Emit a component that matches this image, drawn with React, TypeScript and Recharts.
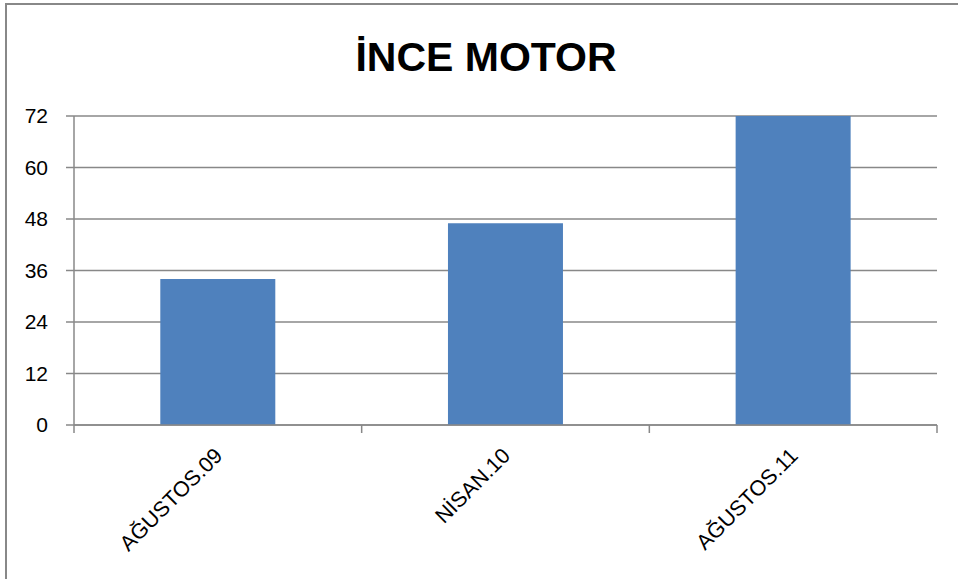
import React from 'react';
import { BarChart, Bar, XAxis, YAxis, CartesianGrid } from 'recharts';

const categories = ['AĞUSTOS.09', 'NİSAN.10', 'AĞUSTOS.11'];
const values = [34, 47, 72];
const yTicks = [0, 12, 24, 36, 48, 60, 72];
const title = 'İNCE MOTOR';

const data = categories.map((c, i) => ({ name: c, value: values[i] }));

const FONT = '"Liberation Sans", Arial, sans-serif';

const XTick = (props: any) => {
  const { x, y, payload, width, visibleTicksCount, index } = props;
  const half = (payload && payload.offset) || width / (visibleTicksCount || 3) / 2;
  const last = index === (visibleTicksCount || 3) - 1;
  const ax = x + 6;
  const ay = y + 32;
  return (
    <g>
      <line x1={x - half} y1={y} x2={x - half} y2={y + 8} stroke="#888" strokeWidth={1.5} />
      {last && <line x1={x + half} y1={y} x2={x + half} y2={y + 8} stroke="#888" strokeWidth={1.5} />}
      <text
        x={ax}
        y={ay}
        textAnchor="end"
        fontSize={21.5}
        fontFamily={FONT}
        fill="#000"
        transform={`rotate(-45, ${ax}, ${ay})`}
      >
        {payload.value}
      </text>
    </g>
  );
};

export default function App() {
  return (
    <div style={{ position: 'absolute', left: 0, top: 0, width: 958, height: 579, background: '#fff', overflow: 'hidden' }}>
      <div
        style={{
          position: 'absolute',
          left: 5,
          top: 3,
          width: 960,
          height: 600,
          borderTop: '2px solid #888',
          borderLeft: '2px solid #888',
          boxSizing: 'border-box',
        }}
      />
      <div
        style={{
          position: 'absolute',
          left: 0,
          top: 37,
          width: 972,
          textAlign: 'center',
          fontFamily: FONT,
          fontWeight: 'bold',
          fontSize: 41,
          lineHeight: '41px',
          color: '#000',
        }}
      >
        {title}
      </div>
      <div style={{ position: 'absolute', left: 0, top: 0 }}>
        <BarChart
          width={958}
          height={579}
          data={data}
          margin={{ top: 116, right: 21, bottom: 0, left: 0 }}
          barCategoryGap="30%"
        >
          <CartesianGrid horizontal vertical={false} stroke="#888" strokeWidth={1.5} />
          <XAxis
            dataKey="name"
            height={154}
            tickSize={0}
            tickMargin={0}
            axisLine={{ stroke: '#888', strokeWidth: 1.5 }}
            tickLine={false}
            tick={<XTick />}
            interval={0}
          />
          <YAxis
            width={74}
            domain={[0, 72]}
            ticks={yTicks}
            interval={0}
            tickSize={8}
            tickMargin={18}
            axisLine={{ stroke: '#888', strokeWidth: 1.5 }}
            tickLine={{ stroke: '#888', strokeWidth: 1.5 }}
            tick={{ fontSize: 21, fontFamily: FONT, fill: '#000' }}
          />
          <Bar dataKey="value" fill="#4F81BD" isAnimationActive={false} />
        </BarChart>
      </div>
    </div>
  );
}
